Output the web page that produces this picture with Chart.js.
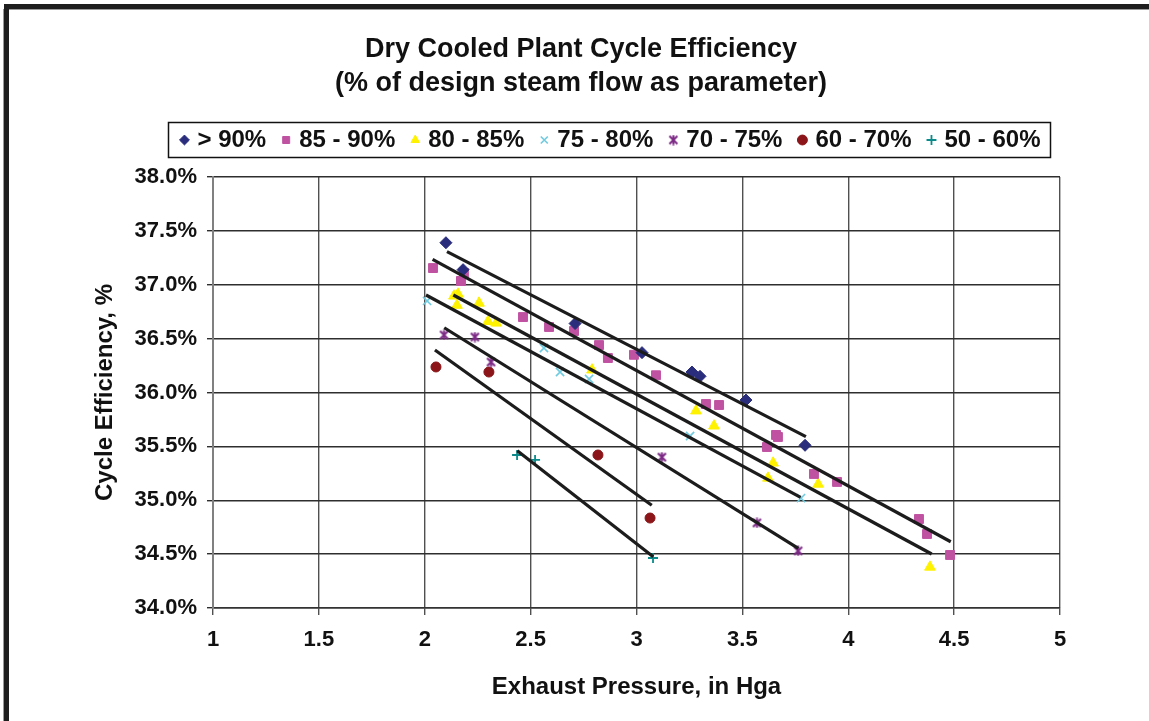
<!DOCTYPE html>
<html>
<head>
<meta charset="utf-8">
<script src="https://cdn.jsdelivr.net/npm/chart.js@4.4.1/dist/chart.umd.min.js"></script>
<style>
html,body{margin:0;padding:0;background:#fff;}
#wrap{width:1149px;height:721px;position:relative;overflow:hidden;}
canvas{display:block;}
</style>
</head>
<body>
<div id="wrap"><canvas id="c" width="1149" height="721"></canvas></div>
<script>
// ---------- data ----------
const titleLines = ['Dry Cooled Plant Cycle Efficiency', '(% of design steam flow as parameter)'];
const xAxisTitle = 'Exhaust Pressure, in Hga';
const yAxisTitle = 'Cycle Efficiency, %';
const seriesNames = ['> 90%', '85 - 90%', '80 - 85%', '75 - 80%', '70 - 75%', '60 - 70%', '50 - 60%'];
const xTicks = [1, 1.5, 2, 2.5, 3, 3.5, 4, 4.5, 5];
const yTicks = [34.0, 34.5, 35.0, 35.5, 36.0, 36.5, 37.0, 37.5, 38.0];

const gt90X = [2.100, 2.181, 2.710, 3.026, 3.262, 3.300, 3.517, 3.796];
const gt90Y = [37.39, 37.14, 36.64, 36.37, 36.19, 36.15, 35.93, 35.51];

const s85X = [2.039, 2.185, 2.171, 2.464, 2.587, 2.705, 2.823, 2.865, 2.988, 3.092, 3.328, 3.390, 3.659, 3.668, 3.616, 3.838, 3.947, 4.334, 4.372, 4.481];
const s85Y = [37.155, 37.109, 37.035, 36.70, 36.608, 36.571, 36.44, 36.32, 36.35, 36.16, 35.893, 35.884, 35.606, 35.587, 35.494, 35.244, 35.17, 34.826, 34.687, 34.492];

const s80X = [2.138, 2.157, 2.152, 2.256, 2.299, 2.337, 2.790, 3.281, 3.366, 3.645, 3.621, 3.858, 4.386];
const s80Y = [36.896, 36.914, 36.81, 36.83, 36.66, 36.645, 36.21, 35.83, 35.69, 35.346, 35.206, 35.15, 34.38];

const s75X = [2.011, 2.563, 2.639, 2.776, 3.253, 3.777];
const s75Y = [36.85, 36.413, 36.19, 36.125, 35.596, 35.02];

const s70X = [2.091, 2.237, 2.313, 3.120, 3.569, 3.763];
const s70Y = [36.534, 36.515, 36.283, 35.40, 34.79, 34.53];

const s60X = [2.053, 2.303, 2.818, 3.064];
const s60Y = [36.237, 36.19, 35.42, 34.835];

const s50X = [2.436, 2.521, 3.078];
const s50Y = [35.42, 35.374, 34.464];

// trendline end points (one per series)
const trend90X = [2.105, 3.800], trend90Y = [37.307, 35.590];
const trend85X = [2.037, 4.484], trend85Y = [37.236, 34.615];
const trend80X = [2.135, 4.394], trend80Y = [36.905, 34.501];
const trend75X = [2.006, 3.775], trend75Y = [36.905, 35.027];
const trend70X = [2.092, 3.764], trend70Y = [36.601, 34.554];
const trend60X = [2.048, 3.072], trend60Y = [36.394, 34.953];
const trend50X = [2.437, 3.079], trend50Y = [35.460, 34.476];

// ---------- styling ----------
const FONT = "'Liberation Sans', Arial, Helvetica, sans-serif";
const TXT = '#111';

function asterisk(color, size, lw) {
  const c = document.createElement('canvas');
  c.width = size; c.height = size;
  const g = c.getContext('2d');
  g.strokeStyle = color; g.lineWidth = lw; g.lineCap = 'butt';
  const m = 1.5, s = size;
  g.beginPath();
  g.moveTo(m, m); g.lineTo(s - m, s - m);
  g.moveTo(s - m, m); g.lineTo(m, s - m);
  g.moveTo(s / 2, 0.5); g.lineTo(s / 2, s - 0.5);
  g.stroke();
  return c;
}

const seriesStyle = [
  {color: '#2a2d7c', style: 'rectRot', r: 6, bw: 1},
  {color: '#c052a2', style: 'rect', r: 6.3, bw: 1},
  {color: '#fff200', style: 'triangle', r: 6.2, bw: 1},
  {color: '#6fcbe0', style: 'crossRot', r: 5.8, bw: 1.6},
  {color: '#7d2a86', style: asterisk('#7d2a86', 11, 2), r: 5.5, bw: 2},
  {color: '#8b1518', style: 'circle', r: 5, bw: 1},
  {color: '#0a8a8a', style: 'cross', r: 5, bw: 1.8}
];
const seriesX = [gt90X, s85X, s80X, s75X, s70X, s60X, s50X];
const seriesY = [gt90Y, s85Y, s80Y, s75Y, s70Y, s60Y, s50Y];
const trendX = [trend90X, trend85X, trend80X, trend75X, trend70X, trend60X, trend50X];
const trendY = [trend90Y, trend85Y, trend80Y, trend75Y, trend70Y, trend60Y, trend50Y];

const zip = (xs, ys) => xs.map((x, i) => ({x: x, y: ys[i]}));

const datasets = [];
trendX.forEach((xs, i) => {
  datasets.push({
    type: 'line', label: 'trend ' + seriesNames[i], data: zip(xs, trendY[i]),
    borderColor: '#1c1c1c', borderWidth: 3.2, pointRadius: 0, pointHoverRadius: 0,
    fill: false, showLine: true, tension: 0
  });
});
seriesX.forEach((xs, i) => {
  const s = seriesStyle[i];
  datasets.push({
    type: 'scatter', label: seriesNames[i], data: zip(xs, seriesY[i]),
    pointStyle: s.style, pointRadius: s.r, pointHoverRadius: s.r,
    backgroundColor: s.color, borderColor: s.color, borderWidth: s.bw, showLine: false
  });
});

const LEG_PAD = 19;
const LEG_GAP = 15;
const TITLE_CENTER = 581;
const LEGEND_CENTER = 612;

const tweaks = {
  id: 'tweaks',
  beforeLayout(chart) {
    const lg = chart.legend;
    if (lg && !lg._gapPatched) {
      const f = lg.fit;
      lg.fit = function () { f.call(this); this.height += LEG_GAP; };
      lg._gapPatched = true;
    }
  },
  afterLayout(chart) {
    const t = chart.titleBlock;
    if (t) { const d = TITLE_CENTER - (t.left + t.right) / 2; t.left += d; t.right += d; }
    const lg = chart.legend;
    if (lg) { const d = LEGEND_CENTER - (lg.left + lg.right) / 2; lg.left += d; lg.right += d; }
  },
  beforeDraw(chart) {
    const ctx = chart.ctx;
    ctx.save();
    ctx.fillStyle = '#fff';
    ctx.fillRect(0, 0, chart.width, chart.height);
    ctx.fillStyle = '#1e1e1e';
    ctx.fillRect(4, 4, chart.width - 4, 5);
    ctx.fillRect(4, 4, 5, chart.height - 4);
    ctx.fillStyle = '#9a9a9a';
    ctx.fillRect(9, 9, chart.width - 9, 1);
    ctx.fillRect(3, 9, 1, chart.height - 9);
    ctx.restore();
  },
  afterDraw(chart) {
    const lg = chart.legend;
    if (!lg || !lg.lineWidths) return;
    const W = lg.lineWidths[0];
    const start = (lg.left + LEG_PAD + lg.right - W) / 2;
    const end = start + W - LEG_PAD;
    const itemTop = lg.top + LEG_PAD;
    const ctx = chart.ctx;
    ctx.save();
    ctx.strokeStyle = '#111';
    ctx.lineWidth = 1.5;
    ctx.strokeRect(Math.round(start - 15) + 0.5, Math.round(itemTop - 6) + 0.5,
                   Math.round(end + 10 - (start - 15)), 35);
    ctx.restore();
  }
};

new Chart(document.getElementById('c'), {
  type: 'scatter',
  data: {datasets: datasets},
  plugins: [tweaks],
  options: {
    responsive: false,
    animation: false,
    devicePixelRatio: 1,
    layout: {padding: {left: 10, right: 89, top: 0, bottom: 0}},
    plugins: {
      tooltip: {enabled: false},
      title: {
        display: true, text: titleLines, color: TXT,
        font: {family: FONT, size: 27, weight: 'bold', lineHeight: 34 / 27},
        padding: {top: 33, bottom: 8}
      },
      legend: {
        display: true, position: 'top',
        labels: {
          usePointStyle: true, boxWidth: 2, boxHeight: 7, padding: LEG_PAD,
          color: TXT, font: {family: FONT, size: 24, weight: 'bold'},
          filter: (item) => item.datasetIndex >= 7
        }
      }
    },
    scales: {
      x: {
        type: 'linear', min: 1, max: 5,
        afterBuildTicks: (s) => { s.ticks = xTicks.map(v => ({value: v})); },
        afterFit: (s) => { s.height = 113; },
        ticks: {color: TXT, font: {family: FONT, size: 22, weight: 'bold'}, padding: 12,
                callback: (v) => String(v)},
        grid: {color: '#505050', lineWidth: 1.4, tickLength: 7, drawTicks: true},
        border: {color: '#333', width: 1.6},
        title: {display: true, text: xAxisTitle, color: TXT,
                font: {family: FONT, size: 24, weight: 'bold', lineHeight: 1.2},
                padding: {top: 0, bottom: 19}}
      },
      y: {
        type: 'linear', min: 34, max: 38,
        afterBuildTicks: (s) => { s.ticks = yTicks.map(v => ({value: v})); },
        afterFit: (s) => { s.width = 203; },
        ticks: {color: TXT, font: {family: FONT, size: 22, weight: 'bold'}, padding: 10,
                callback: (v) => Number(v).toFixed(1) + '%'},
        grid: {color: '#2e2e2e', lineWidth: 1.4, tickLength: 6, drawTicks: true},
        border: {color: '#808080', width: 2},
        title: {display: true, text: yAxisTitle, color: TXT,
                font: {family: FONT, size: 24, weight: 'bold', lineHeight: 1.2},
                padding: {top: 80.6, bottom: 0}}
      }
    }
  }
});
</script>
</body>
</html>
